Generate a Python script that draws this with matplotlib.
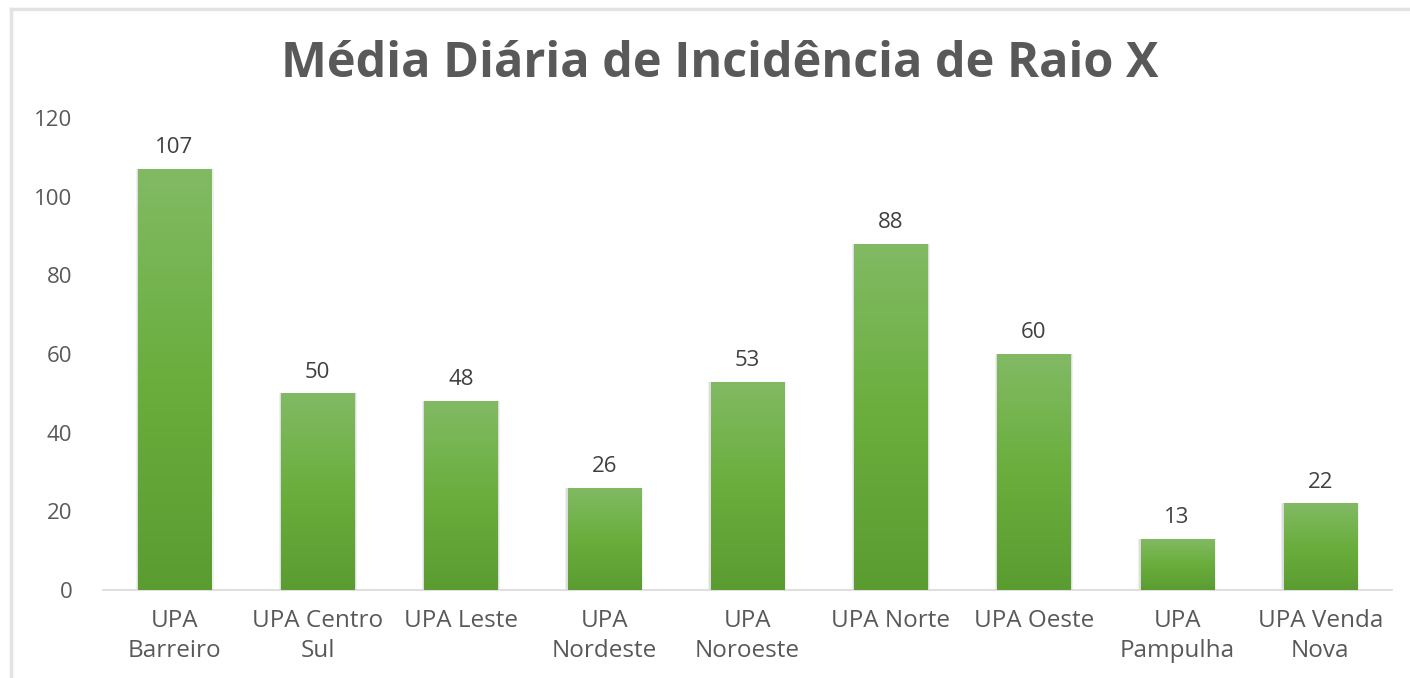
import numpy as np
import matplotlib
matplotlib.use("Agg")
import matplotlib.pyplot as plt
from matplotlib.lines import Line2D
from matplotlib.colors import LinearSegmentedColormap

categories = ["UPA\nBarreiro", "UPA Centro\nSul", "UPA Leste", "UPA\nNordeste",
              "UPA\nNoroeste", "UPA Norte", "UPA Oeste", "UPA\nPampulha",
              "UPA Venda\nNova"]
values = [107, 50, 48, 26, 53, 88, 60, 13, 22]
yticks = [0, 20, 40, 60, 80, 100, 120]

plt.rcParams['font.family'] = ['Open Sans', 'DejaVu Sans']
gray = '#595959'

fig = plt.figure(figsize=(14.1, 6.78), dpi=100)
ax = fig.add_axes([0.0730, 0.1298, 0.9142, 0.6962])

x = np.arange(len(values))
bars = ax.bar(x, values, width=0.51, color='none', edgecolor='none', zorder=3)

# green vertical gradient inside each bar
cmap = LinearSegmentedColormap.from_list('g', ['#5b9c31', '#6aae3d', '#82ba64'])
grad = np.linspace(0, 1, 256).reshape(-1, 1)
for b, v in zip(bars, values):
    x0, w, h = b.get_x(), b.get_width(), b.get_height()
    # soft shadow
    for k, a in [(0.035, 0.06), (0.02, 0.08)]:
        ax.bar(x0 + w / 2, h, width=w + k, color='#000000', alpha=a,
               edgecolor='none', zorder=2)
    im = ax.imshow(grad, extent=[x0, x0 + w, 0, h], origin='lower', cmap=cmap,
                   aspect='auto', zorder=3)
    im.set_clip_path(b)
    ax.text(x0 + w / 2, h + 4.0, str(v), ha='center', va='baseline',
            fontsize=16, color='#404040')

ax.set_xlim(-0.5, len(values) - 0.5)
ax.set_ylim(0, 120)
ax.set_yticks(yticks)
ax.set_xticks(x)
ax.set_xticklabels(categories, fontsize=17.5, color=gray, linespacing=1.3)
ax.tick_params(axis='y', labelsize=16, colors=gray, length=0, pad=22)
ax.tick_params(axis='x', length=0, pad=14)
for s in ['top', 'right', 'left']:
    ax.spines[s].set_visible(False)
ax.spines['bottom'].set_color('#d9d9d9')
ax.spines['bottom'].set_linewidth(1.2)

fig.text(0.5106, 1 - 77 / 678, 'Média Diária de Incidência de Raio X',
         ha='center', va='baseline', fontsize=35, fontweight='bold', color=gray)

# chart frame (top and left edges visible)
fig.add_artist(Line2D([11 / 1410, 1], [1 - 9 / 678, 1 - 9 / 678],
                      transform=fig.transFigure, color='#e3e3e3', lw=2.5))
fig.add_artist(Line2D([11 / 1410, 11 / 1410], [0, 1 - 9 / 678],
                      transform=fig.transFigure, color='#e3e3e3', lw=2.5))

fig.savefig('out.png', dpi=100)
